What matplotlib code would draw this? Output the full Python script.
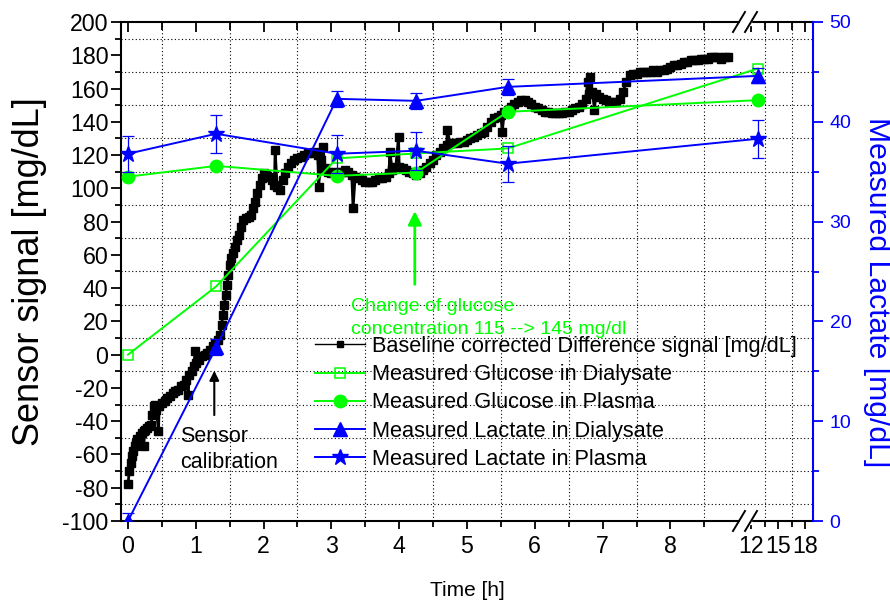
import numpy as np
import matplotlib.pyplot as plt
from matplotlib.lines import Line2D
from matplotlib.patches import Rectangle

plt.rcParams['font.family'] = ['Liberation Sans', 'DejaVu Sans']
plt.rcParams['axes.unicode_minus'] = False

# baseline corrected difference signal, time [h] and signal [mg/dL]
signal_t = [0.00, 0.02, 0.04, 0.06, 0.08, 0.10, 0.12, 0.14, 0.17, 0.20, 0.23, 0.23, 0.25, 0.28,
            0.31, 0.34, 0.36, 0.38, 0.40, 0.42, 0.45, 0.46, 0.50, 0.54, 0.58, 0.62, 0.66, 0.70,
            0.74, 0.78, 0.82, 0.86, 0.89, 0.90, 0.94, 0.97, 0.99, 1.01, 1.05, 1.09, 1.13, 1.17,
            1.21, 1.25, 1.29, 1.33, 1.36, 1.38, 1.40, 1.42, 1.44, 1.46, 1.48, 1.50, 1.52, 1.55,
            1.58, 1.61, 1.64, 1.67, 1.70, 1.74, 1.78, 1.82, 1.85, 1.88, 1.91, 1.94, 1.97, 2.00,
            2.04, 2.08, 2.12, 2.16, 2.17, 2.20, 2.24, 2.28, 2.32, 2.36, 2.40, 2.45, 2.50, 2.55,
            2.60, 2.65, 2.70, 2.75, 2.80, 2.81, 2.85, 2.88, 2.90, 2.95, 3.00, 3.05, 3.10, 3.15,
            3.20, 3.25, 3.30, 3.32, 3.35, 3.40, 3.45, 3.50, 3.55, 3.60, 3.65, 3.70, 3.75, 3.80,
            3.85, 3.86, 3.90, 3.95, 3.99, 4.00, 4.05, 4.10, 4.15, 4.20, 4.25, 4.30, 4.35, 4.40,
            4.45, 4.50, 4.55, 4.60, 4.65, 4.70, 4.71, 4.75, 4.80, 4.85, 4.90, 4.95, 5.00, 5.05,
            5.10, 5.15, 5.20, 5.25, 5.30, 5.35, 5.40, 5.45, 5.50, 5.52, 5.55, 5.60, 5.65, 5.70,
            5.75, 5.80, 5.85, 5.90, 5.95, 6.00, 6.05, 6.10, 6.15, 6.20, 6.25, 6.30, 6.35, 6.40,
            6.45, 6.50, 6.55, 6.60, 6.65, 6.70, 6.75, 6.78, 6.80, 6.82, 6.85, 6.88, 6.90, 6.95,
            7.00, 7.05, 7.10, 7.15, 7.20, 7.25, 7.30, 7.35, 7.40, 7.45, 7.50, 7.55, 7.60, 7.65,
            7.70, 7.75, 7.80, 7.85, 7.90, 7.95, 8.00, 8.05, 8.10, 8.15, 8.20, 8.25, 8.30, 8.35,
            8.40, 8.45, 8.50, 8.55, 8.60, 8.65, 8.70, 8.75, 8.80, 8.85]
signal_v = [-78, -70, -65, -61, -58, -55, -53, -51, -49, -47, -46, -55, -45, -44,
            -43, -42, -36, -31, -30, -33, -46, -31, -29, -28, -26, -25, -23, -22,
            -21, -19, -18, -15, -24, -12, -10, -7, 2, -5, -3, -1, 0, 1,
            3, 5, 7, 9, 12, 18, 24, 30, 36, 42, 48, 54, 58, 61,
            65, 69, 72, 77, 81, 82, 83, 84, 88, 92, 97, 102, 106, 109,
            108, 107, 105, 102, 123, 101, 99, 105, 109, 113, 115, 117, 118, 119,
            120, 121, 121, 122, 120, 101, 117, 125, 112, 110, 109, 110, 109, 110,
            111, 110, 108, 88, 107, 106, 105, 104, 104, 104, 105, 106, 106, 107,
            109, 122, 111, 113, 131, 113, 112, 111, 110, 109, 108, 109, 111, 113,
            115, 117, 120, 122, 124, 126, 135, 127, 127, 127, 128, 128, 129, 130,
            131, 132, 133, 134, 137, 140, 142, 143, 144, 134, 146, 147, 149, 151,
            152, 153, 153, 152, 151, 149, 148, 147, 146, 146, 145, 145, 145, 145,
            146, 146, 147, 148, 149, 151, 154, 164, 157, 167, 158, 147, 157, 155,
            154, 153, 152, 152, 152, 154, 158, 164, 168, 169, 169, 170, 170, 170,
            170, 171, 170, 171, 171, 172, 173, 174, 174, 175, 176, 176, 177, 177,
            177, 178, 178, 178, 179, 179, 179, 178, 179, 179]

# reference samples
sample_t = [0.0, 1.3, 3.08, 4.25, 5.6, 12.75]
glucose_dialysate = [0, 41, 118, 121, 124, 172]
glucose_plasma = [107, 113.5, 107.5, 109.5, 146, 153]
lactate_dialysate = [0, 17.4, 42.3, 42.1, 43.5, 44.6]
lactate_dialysate_err = [0.8, 0.8, 0.8, 0.8, 0.8, 0.75]
lactate_plasma = [36.8, 38.8, 36.8, 37.1, 35.8, 38.3]
lactate_plasma_err = [1.8, 1.9, 1.9, 1.9, 1.8, 1.9]

x_major = [0, 1, 2, 3, 4, 5, 6, 7, 8, 12, 15, 18]
x_minor = [0.5, 1.5, 2.5, 3.5, 4.5, 5.5, 6.5, 7.5, 8.5, 13.5, 16.5]

GREEN = '#00ff00'
BLUE = '#0000ff'

# broken time axis: linear up to CUT, gap squeezed, tail compressed after RESUME
CUT, RESUME = 9.1, 12.0
GAP_W = 0.09
TAIL = 0.1327


def fwd(t):
    t = np.asarray(t, dtype=float)
    return np.where(t <= CUT, t,
                    np.where(t < RESUME, CUT + (t - CUT) * GAP_W / (RESUME - CUT),
                             CUT + GAP_W + (t - RESUME) * TAIL))


def inv(u):
    u = np.asarray(u, dtype=float)
    return np.where(u <= CUT, u,
                    np.where(u < CUT + GAP_W, CUT + (u - CUT) * (RESUME - CUT) / GAP_W,
                             RESUME + (u - CUT - GAP_W) / TAIL))


W, H = 890, 605
fig = plt.figure(figsize=(W / 100, H / 100), dpi=100)
L, R, T, B = 121, 813, 22, 521
ax = fig.add_axes([L / W, 1 - B / H, (R - L) / W, (B - T) / H])
ax.set_xscale('function', functions=(fwd, inv))
xlim = (float(inv(-0.103)), float(inv(10.103)))
ax.set_xlim(*xlim)
ax.set_ylim(-100, 200)

ax.plot(signal_t, signal_v, 'ks-', ms=5.6, lw=2, zorder=2,
        label='Baseline corrected Difference signal [mg/dL]')
ax.plot(sample_t, glucose_dialysate, 's-', color=GREEN, mfc='none', mec=GREEN, ms=7,
        mew=1.1, lw=1.4, zorder=3, label='Measured Glucose in Dialysate')
ax.plot(sample_t, glucose_plasma, 'o-', color=GREEN, ms=9, lw=1.4, zorder=3,
        label='Measured Glucose in Plasma')

ax.set_xticks(x_major)
ax.set_xticklabels([str(v) for v in x_major])
ax.set_xticks(x_minor, minor=True)
ax.set_yticks(np.arange(-100, 201, 20))
ax.set_yticks(np.arange(-90, 200, 20), minor=True)
ax.grid(which='minor', color='k', lw=0.8, linestyle=(0, (1, 2.2)))
ax.grid(which='major', visible=False)

ax.tick_params(axis='x', which='major', direction='out', length=6, width=1.3,
               labelsize=16.7, pad=4, top=False)
ax.tick_params(axis='x', which='minor', direction='out', length=4, width=1.3, top=False)
ax.tick_params(axis='y', which='major', direction='out', length=7, width=1.3,
               labelsize=16.7, pad=2)
ax.tick_params(axis='y', which='minor', direction='out', length=4.5, width=1.3)
for side in ('left', 'bottom', 'top'):
    ax.spines[side].set_linewidth(1.5)
ax.spines['right'].set_visible(False)

# lactate on the right axis
ax2 = ax.twinx()
ax2.set_ylim(0, 50)
lac_d = ax2.errorbar(sample_t, lactate_dialysate, yerr=lactate_dialysate_err, fmt='^-',
                     color=BLUE, ms=10, lw=1.4, elinewidth=0.9, capsize=4, capthick=0.9,
                     label='Measured Lactate in Dialysate')
lac_p = ax2.errorbar(sample_t, lactate_plasma, yerr=lactate_plasma_err, fmt='*-',
                     color=BLUE, ms=12, lw=1.4, elinewidth=0.9, capsize=4, capthick=0.9,
                     label='Measured Lactate in Plasma')
ax2.set_yticks(np.arange(0, 51, 10))
ax2.set_yticks(np.arange(5, 50, 10), minor=True)
ax2.tick_params(axis='y', which='major', direction='out', length=7, width=1.3,
                colors=BLUE, labelsize=14, pad=5)
ax2.tick_params(axis='y', which='minor', direction='out', length=4.5, width=1.3, colors=BLUE)
for side in ('left', 'bottom', 'top'):
    ax2.spines[side].set_visible(False)
ax2.spines['right'].set_color(BLUE)
ax2.spines['right'].set_linewidth(1.5)

# inward ticks along the top edge
ax3 = ax.twiny()
ax3.set_xscale('function', functions=(fwd, inv))
ax3.set_xlim(*xlim)
ax3.set_xticks(x_major)
ax3.set_xticks(x_minor, minor=True)
ax3.tick_params(axis='x', which='major', direction='in', length=7, width=1.3,
                labeltop=False)
ax3.tick_params(axis='x', which='minor', direction='in', length=5.5, width=1.3)
for sp in ax3.spines.values():
    sp.set_visible(False)

# axis break marks on top and bottom spines
for ypx in (T, B):
    y = 1 - ypx / H
    fig.add_artist(Rectangle((739.5 / W, y - 3 / H), 11 / W, 6 / H, color='white',
                             transform=fig.transFigure, zorder=5))
    for cx in (739, 751):
        fig.add_artist(Line2D([(cx - 6) / W, (cx + 6) / W], [y - 10 / H, y + 10 / H],
                              color='k', lw=1.4, transform=fig.transFigure, zorder=6))

# annotations
ax.annotate('', xy=(1.273, -8), xytext=(1.273, -38),
            arrowprops=dict(arrowstyle='-|>', color='k', lw=1.5, mutation_scale=14))
ax.text(0.77, -57, 'Sensor\ncalibration', fontsize=15.5, va='center', ha='left',
        linespacing=1.3)
ax.annotate('', xy=(4.23, 88), xytext=(4.23, 40.6),
            arrowprops=dict(arrowstyle='-|>', color=GREEN, lw=2, mutation_scale=20))
ax.text(3.29, 22, 'Change of glucose\nconcentration 115 --> 145 mg/dl', fontsize=14,
        color=GREEN, va='center', ha='left', linespacing=1.5)

handles = [ax.lines[0], ax.lines[1], ax.lines[2], lac_d[0], lac_p[0]]
labels = ['Baseline corrected Difference signal [mg/dL]', 'Measured Glucose in Dialysate',
          'Measured Glucose in Plasma', 'Measured Lactate in Dialysate',
          'Measured Lactate in Plasma']
leg = fig.legend(handles, labels, loc='upper left', bbox_to_anchor=(315 / W, 1 - 336 / H),
                 frameon=False, fontsize=15.7, borderpad=0, borderaxespad=0,
                 handlelength=2.3, handletextpad=0.3, labelspacing=0.33)
leg.legend_handles[0].set_markersize(4)
leg.legend_handles[0].set_linewidth(1)

fig.text(30 / W, 1 - 272 / H, 'Sensor signal [mg/dL]', rotation=90, fontsize=26,
         ha='center', va='center')
fig.text(877 / W, 1 - 292 / H, 'Measured Lactate [mg/dL]', rotation=270, fontsize=21.7,
         ha='center', va='center', color=BLUE)
fig.text(467 / W, 1 - 590 / H, 'Time [h]', fontsize=15, ha='center', va='center')

fig.savefig('out.png', dpi=100)
